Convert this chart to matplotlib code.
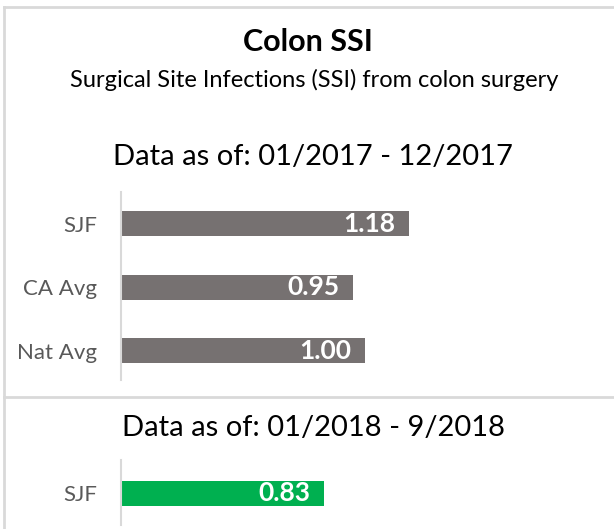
import matplotlib.pyplot as plt
from matplotlib.lines import Line2D

# data
title = "Colon SSI"
subtitle = "Surgical Site Infections (SSI) from colon surgery"

period_2017 = "Data as of: 01/2017 - 12/2017"
labels_2017 = ["SJF", "CA Avg", "Nat Avg"]
values_2017 = [1.18, 0.95, 1.00]

period_2018 = "Data as of: 01/2018 - 9/2018"
labels_2018 = ["SJF"]
values_2018 = [0.83]

GRAY_BAR = "#767171"
GREEN_BAR = "#00B050"
LINE = "#D9D9D9"
LABEL = "#595959"

W, H = 614, 529
plt.rcParams['font.family'] = ['Lato', 'DejaVu Sans']

fig = plt.figure(figsize=(W / 100, H / 100), dpi=100)


def px_axes(x0, y0, x1, y1):
    # pixel box (top-left origin) -> figure axes
    return fig.add_axes([x0 / W, 1 - y1 / H, (x1 - x0) / W, (y1 - y0) / H])


def bar_panel(ax, labels, values, color, ylim):
    pos = list(range(len(values)))
    bars = ax.barh(pos, values, height=0.39, color=color)
    ax.set_xlim(0, 2.0)
    ax.set_ylim(*ylim)
    ax.set_yticks(pos)
    ax.set_yticklabels(labels, fontsize=16, color=LABEL)
    ax.tick_params(axis='y', length=0, pad=17)
    ax.set_xticks([])
    for side in ['top', 'right', 'bottom']:
        ax.spines[side].set_visible(False)
    ax.spines['left'].set_color(LINE)
    ax.spines['left'].set_linewidth(1.5)
    for b, v in zip(bars, values):
        ax.text(b.get_width() - 0.055, b.get_y() + b.get_height() / 2, f"{v:.2f}",
                ha='right', va='center', color='white', fontsize=19,
                fontweight='bold')


ax1 = px_axes(121, 192, 609, 380)
bar_panel(ax1, labels_2017, values_2017, GRAY_BAR, (2.46, -0.5))

ax2 = px_axes(121, 460, 609, 525)
bar_panel(ax2, labels_2018, values_2018, GREEN_BAR, (0.5, -0.52))

# titles
fig.text(308 / W, 1 - 42 / H, title, ha='center', va='center',
         fontsize=22, fontweight='bold')
fig.text(314 / W, 1 - 80 / H, subtitle, ha='center', va='center', fontsize=17)
fig.text(313 / W, 1 - 157 / H, period_2017, ha='center', va='center', fontsize=21)
fig.text(313 / W, 1 - 428 / H, period_2018, ha='center', va='center', fontsize=21)

# frame lines
fig.add_artist(Line2D([4 / W, 1], [1 - 7 / H, 1 - 7 / H], color=LINE, lw=2))
fig.add_artist(Line2D([4 / W, 4 / W], [0, 1 - 7 / H], color=LINE, lw=2))
fig.add_artist(Line2D([4 / W, 1], [1 - 397 / H, 1 - 397 / H], color=LINE, lw=2))

fig.savefig("out.png", dpi=100)
